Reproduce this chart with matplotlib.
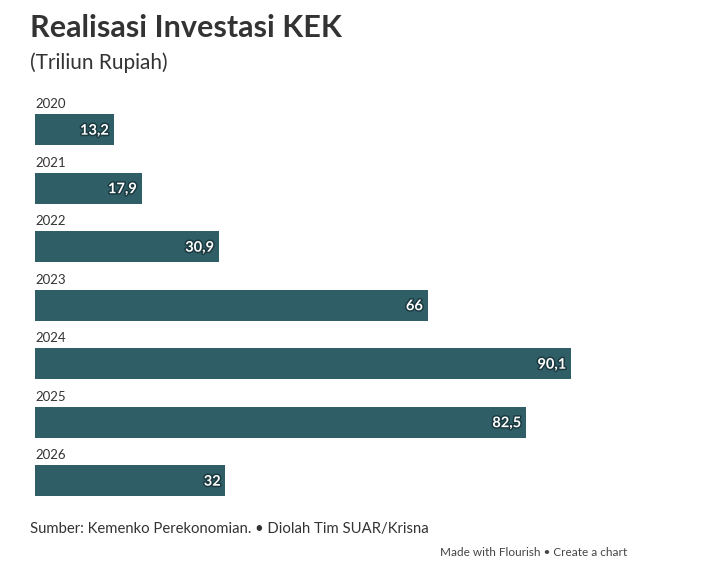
import matplotlib.pyplot as plt
import matplotlib.patheffects as pe

# data
years = ['2020', '2021', '2022', '2023', '2024', '2025', '2026']
values = [13.2, 17.9, 30.9, 66, 90.1, 82.5, 32]
value_labels = ['13,2', '17,9', '30,9', '66', '90,1', '82,5', '32']

bar_color = '#2f5e67'
W, H = 712, 580

plt.rcParams['font.family'] = ['Lato', 'DejaVu Sans']

fig = plt.figure(figsize=(W / 100, H / 100), dpi=100)
fig.patch.set_facecolor('white')

# axes placed in pixel terms: x 0 at 35px, 1 unit = 5.95px
px_per_unit = 5.95
ax_left = 35 / W
ax_width = 100 * px_per_unit / W
step = 58.5
top_px = 129.5 - step / 2
ax_height = 7 * step / H
ax_bottom = (H - top_px) / H - ax_height
ax = fig.add_axes([ax_left, ax_bottom, ax_width, ax_height])
ax.set_xlim(0, 100)
ax.set_ylim(6.5, -0.5)
ax.axis('off')

pos = list(range(len(years)))
bh = 31 / step
ax.barh(pos, values, height=bh, color=bar_color, edgecolor='none')

for i, (yr, v, lab) in enumerate(zip(years, values, value_labels)):
    ax.text(0, i - bh / 2 - 0.06, yr, ha='left', va='bottom',
            fontsize=9.5, color='#333333')
    ax.text(v - 0.8, i + 0.02, lab, ha='right', va='center',
            fontsize=10.5, fontweight='bold', color='white',
            path_effects=[pe.withStroke(linewidth=2.2, foreground='#1b3a40')])

fig.text(30 / W, 1 - 28 / H, 'Realisasi Investasi KEK', ha='left', va='center',
         fontsize=22, fontweight='bold', color='#333333')
fig.text(30 / W, 1 - 63 / H, '(Triliun Rupiah)', ha='left', va='center',
         fontsize=15, color='#333333')
fig.text(30 / W, 1 - 529 / H, 'Sumber: Kemenko Perekonomian. \u2022 Diolah Tim SUAR/Krisna',
         ha='left', va='center', fontsize=10.7, color='#333333')
fig.text(440 / W, 1 - 553 / H, 'Made with Flourish \u2022 Create a chart',
         ha='left', va='center', fontsize=8.5, color='#444444')

fig.savefig('out.png', dpi=100, facecolor='white')
